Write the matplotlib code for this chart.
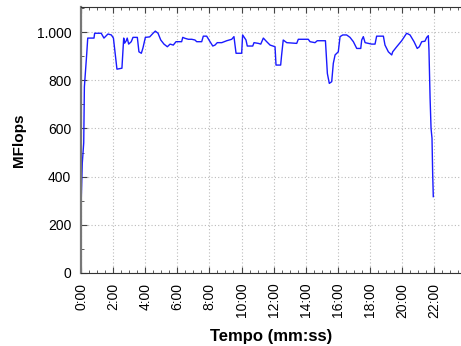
import matplotlib
matplotlib.use("Agg")
import matplotlib.pyplot as plt
from matplotlib.ticker import MultipleLocator, FuncFormatter

# time in minutes, throughput in MFlops
time_min = [0.02, 0.08, 0.17, 0.21, 0.36, 0.42, 0.81, 0.85, 1.26, 1.43, 1.68, 1.89,
            2.02, 2.24, 2.55, 2.66, 2.72, 2.82, 2.88, 2.97, 3.13, 3.24, 3.51, 3.61,
            3.76, 3.86, 4.01, 4.28, 4.49, 4.63, 4.80, 4.97, 5.17, 5.38, 5.55, 5.75,
            5.92, 6.27, 6.34, 6.48, 6.69, 6.90, 7.10, 7.21, 7.52, 7.62, 7.83, 8.04,
            8.21, 8.35, 8.49, 8.77, 9.08, 9.39, 9.53, 9.66, 10.01, 10.07, 10.28, 10.36,
            10.70, 10.78, 11.05, 11.20, 11.36, 11.57, 11.78, 12.09, 12.15, 12.44, 12.50,
            12.60, 12.82, 13.44, 13.54, 14.16, 14.27, 14.58, 14.72, 15.23, 15.35, 15.47,
            15.62, 15.72, 15.83, 16.03, 16.14, 16.31, 16.55, 16.76, 16.97, 17.18, 17.43,
            17.49, 17.59, 17.70, 18.11, 18.32, 18.42, 18.84, 18.94, 19.15, 19.36, 19.42,
            19.67, 19.98, 20.29, 20.50, 20.75, 20.95, 21.08, 21.23, 21.43, 21.54, 21.64,
            21.68, 21.75, 21.81, 21.87, 21.91, 21.95]
mflops = [317, 456, 540, 772, 913, 975, 975, 995, 995, 975, 992, 988,
          975, 846, 850, 975, 954, 964, 975, 950, 960, 978, 978, 918,
          912, 934, 978, 980, 995, 1004, 995, 967, 950, 939, 950, 946,
          960, 960, 978, 974, 970, 970, 967, 960, 960, 983, 983, 960,
          942, 946, 956, 956, 964, 970, 981, 912, 912, 988, 967, 942,
          942, 956, 953, 950, 975, 960, 946, 939, 863, 863, 905,
          967, 956, 953, 970, 970, 960, 956, 964, 964, 828, 787,
          794, 870, 905, 918, 981, 988, 988, 978, 960, 932, 932,
          967, 981, 956, 950, 950, 983, 983, 946, 918, 905, 918,
          939, 964, 995, 988, 960, 932, 939, 960, 962, 978, 985,
          925, 725, 600, 559, 414, 317]

plt.rcParams['font.family'] = ['Liberation Sans', 'DejaVu Sans']

fig = plt.figure(figsize=(4.61, 3.46), dpi=100)
ax = fig.add_axes([81/461, 1-273/346, 1-81/461, (273-7)/346])

ax.plot(time_min, mflops, color='#1a1aff', lw=1.0)

ax.set_xlim(0, (461-81)/16.05)
ax.set_ylim(0, 1104)

ax.xaxis.set_major_locator(MultipleLocator(2))
ax.xaxis.set_minor_locator(MultipleLocator(0.5))
ax.yaxis.set_major_locator(MultipleLocator(200))
ax.yaxis.set_minor_locator(MultipleLocator(100))

def fmt_time(m, pos):
    mm = int(m)
    ss = int(round((m - mm) * 60))
    return f"{mm}:{ss:02d}"

def fmt_y(v, pos):
    return f"{int(v):,}".replace(",", ".")

ax.xaxis.set_major_formatter(FuncFormatter(fmt_time))
ax.yaxis.set_major_formatter(FuncFormatter(fmt_y))

ax.tick_params(axis='both', which='both', direction='in', top=True, right=False,
               labelsize=10, colors='#444444', labelcolor='black')
ax.tick_params(axis='both', which='major', length=4, pad=7)
ax.tick_params(axis='both', which='minor', length=2.5)
for lab in ax.get_xticklabels():
    lab.set_rotation(90)

ax.grid(True, which='major', linestyle=(0, (1, 2)), color='#bbbbbb', lw=0.8)

ax.spines['right'].set_visible(False)
ax.spines['left'].set_color('#777777')
ax.spines['left'].set_linewidth(1.6)
ax.spines['bottom'].set_color('#333333')
ax.spines['top'].set_color('#333333')

ax.set_xlabel('Tempo (mm:ss)', fontsize=12, fontweight='bold', labelpad=8)
ax.set_ylabel('MFlops', fontsize=11, fontweight='bold', labelpad=8)

fig.savefig('out.png', dpi=100)
